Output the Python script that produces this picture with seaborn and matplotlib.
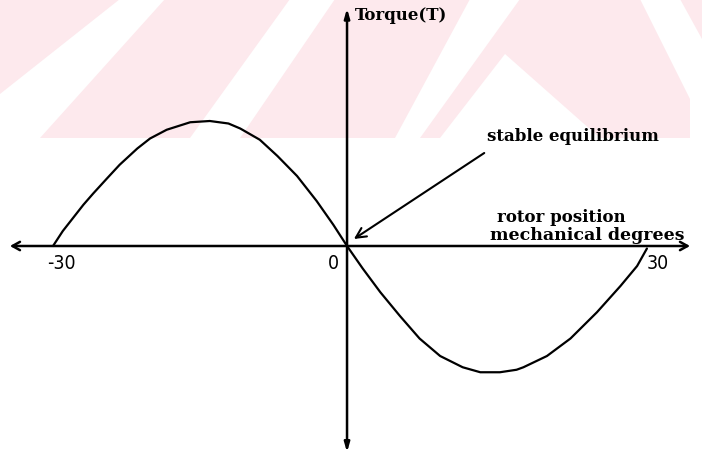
import matplotlib
matplotlib.use("Agg")
import matplotlib.pyplot as plt
from matplotlib.patches import Polygon
import seaborn as sns
import pandas as pd

# Rotor position (mechanical degrees) and normalised torque along the curve
position = [-30.0, -29.0, -28.0, -26.9, -25.9, -24.5, -23.2, -21.4, -20.1, -18.4,
            -16.0, -14.0, -12.1, -10.9, -8.9, -7.1, -5.1, -3.1, -1.4, 0.0,
            1.6, 3.4, 5.4, 7.4, 9.5, 11.8, 13.6, 15.6, 17.3, 18.0,
            20.4, 22.8, 25.5, 27.9, 29.6, 30.6]
torque = [0.0, 0.12, 0.22, 0.33, 0.42, 0.54, 0.65, 0.78, 0.86, 0.93,
          0.99, 1.00, 0.98, 0.94, 0.85, 0.72, 0.56, 0.36, 0.17, 0.0,
          -0.18, -0.37, -0.56, -0.74, -0.88, -0.97, -1.01, -1.01, -0.99, -0.97,
          -0.88, -0.74, -0.53, -0.32, -0.16, -0.02]

tick_values = [-30, 0, 30]
tick_labels = ["-30", "0", "30"]

df = pd.DataFrame({"position": position, "torque": torque})

sns.set_theme(style="white")
plt.rcParams["font.family"] = ["DejaVu Serif", "Liberation Serif"]

fig = plt.figure(figsize=(7.02, 4.56), dpi=100)
fig.patch.set_facecolor("white")

# faint chevron watermark band across the top
bg = fig.add_axes([0, 0, 1, 1])
bg.set_xlim(0, 702)
bg.set_ylim(456, 0)
bg.axis("off")
pink = "#fde9ed"
bands = [
    [(0, 0), (120, 0), (0, 95)],
    [(165, 0), (290, 0), (190, 139), (40, 139)],
    [(335, 0), (470, 0), (395, 139), (240, 139)],
    [(520, 0), (640, 0), (690, 100), (690, 139), (600, 139), (505, 55), (440, 139), (420, 139)],
    [(680, 0), (702, 0), (702, 40)],
]
for pts in bands:
    bg.add_patch(Polygon(pts, closed=True, facecolor=pink, edgecolor="none"))

ax = fig.add_axes([0, 0, 1, 1])
ax.patch.set_alpha(0)
sns.lineplot(data=df, x="position", y="torque", color="black", linewidth=1.6,
             ax=ax, legend=False)
ax.set_xlim(-35.41, 36.22)
ax.set_ylim(-1.672, 1.976)
ax.axis("off")

# axes drawn as arrows
ax.annotate("", xy=(-34.4, 0), xytext=(35.0, 0),
            arrowprops=dict(arrowstyle="<->,head_length=0.45,head_width=0.25",
                            color="black", lw=1.8, shrinkA=0, shrinkB=0))
ax.annotate("", xy=(0, 1.9), xytext=(0, -1.65),
            arrowprops=dict(arrowstyle="<|-|>,head_length=0.45,head_width=0.13",
                            color="black", lw=1.8, shrinkA=0, shrinkB=0))

# equilibrium pointer
ax.annotate("", xy=(0.7, 0.056), xytext=(14.0, 0.744),
            arrowprops=dict(arrowstyle="->,head_length=0.6,head_width=0.3",
                            color="black", lw=1.5, shrinkA=0, shrinkB=0))

tfont = dict(fontsize=12, color="black", fontweight="bold")
ax.text(0.8, 1.85, "Torque(T)", ha="left", va="center", **tfont)
ax.text(14.3, 0.88, "stable equilibrium", ha="left", va="center", **tfont)
ax.text(15.3, 0.232, "rotor position", ha="left", va="center", **tfont)
ax.text(14.6, 0.088, "mechanical degrees", ha="left", va="center",
        fontsize=12.5, color="black", fontweight="bold")

offsets = {-30: 0.9, 0: -1.4, 30: 1.7}
for v, lab in zip(tick_values, tick_labels):
    ax.text(v + offsets[v], -0.13, lab, ha="center", va="center", fontsize=14,
            family="DejaVu Sans", fontstretch="condensed", color="black")

fig.savefig("out.png", dpi=100)
